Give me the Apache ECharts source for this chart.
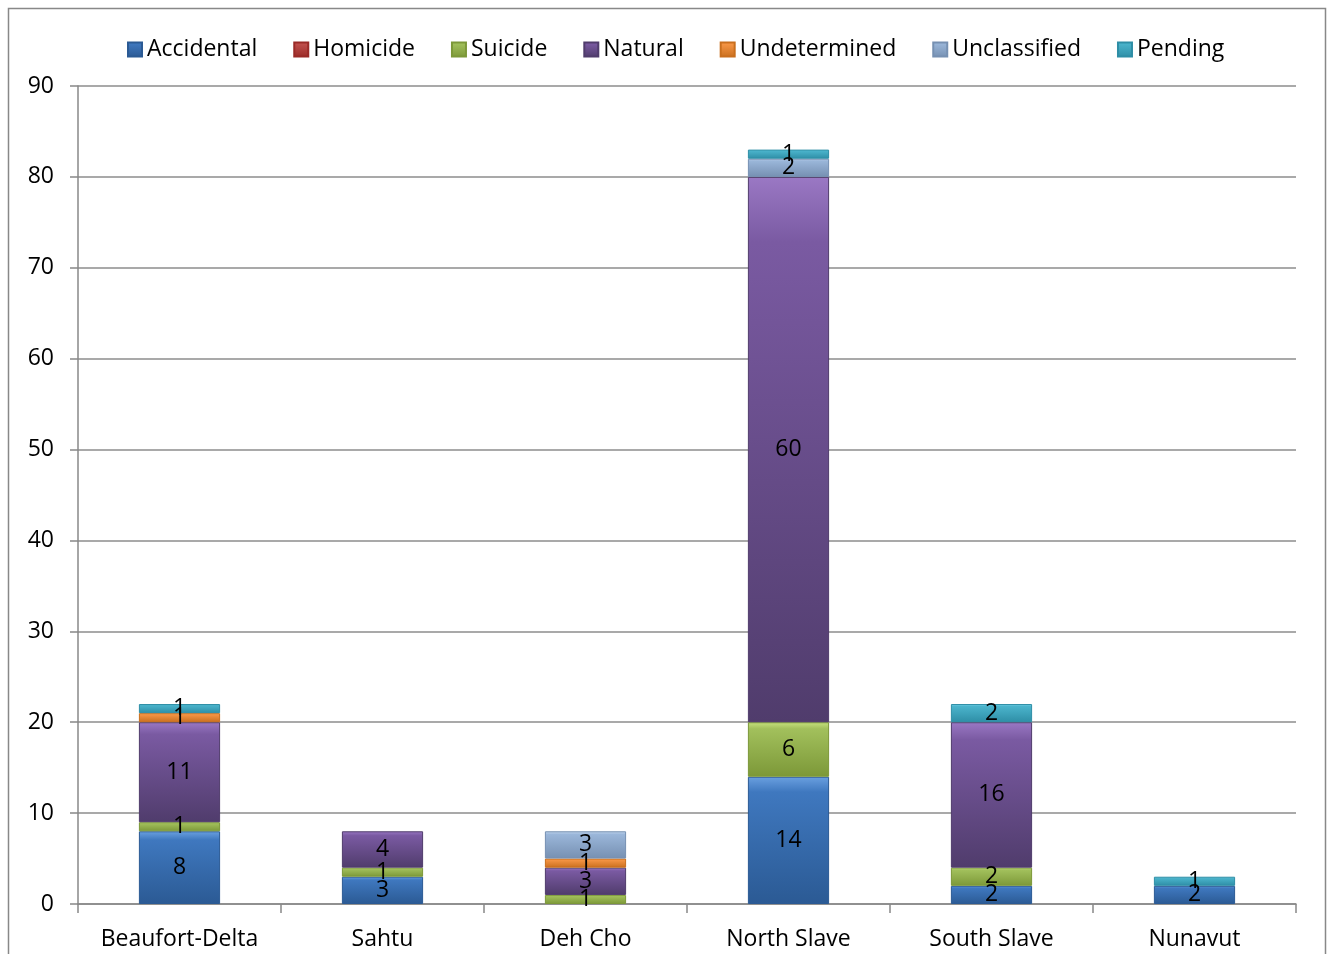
<!DOCTYPE html>
<html><head><meta charset="utf-8">
<script src="https://cdn.jsdelivr.net/npm/echarts@6/dist/echarts.min.js"></script>
<style>html,body{margin:0;padding:0;background:#fff}#c{width:1327px;height:954px}</style>
</head><body><div id="c"></div>
<script>
const categories = ['Beaufort-Delta','Sahtu','Deh Cho','North Slave','South Slave','Nunavut'];
const accidental   = [8, 3, null, 14, 2, 2];
const homicide     = [null, null, null, null, null, null];
const suicide      = [1, 1, 1, 6, 2, null];
const natural      = [11, 4, 3, 60, 16, null];
const undetermined = [1, null, 1, null, null, null];
const unclassified = [null, null, 3, 2, null, null];
const pending      = [1, null, null, 1, 2, 1];
const yTicks = [0,10,20,30,40,50,60,70,80,90];

const seriesDefs = [
  ['Accidental', accidental, '#6aa0e0', '#2b5a94', '#3f78bf'],
  ['Homicide', homicide, '#e06460', '#9a2a27', '#c0504d'],
  ['Suicide', suicide, '#c6e27e', '#7c9838', '#a2c05c'],
  ['Natural', natural, '#9a78c4', '#503c6c', '#7a5aa2'],
  ['Undetermined', undetermined, '#fbb878', '#c96f1e', '#f79646'],
  ['Unclassified', unclassified, '#c3d6ee', '#7690b2', '#9ab6d9'],
  ['Pending', pending, '#7fdcf0', '#2e8ea6', '#4bb4cc']
];
const font = '"Open Sans", sans-serif';
const chart = echarts.init(document.getElementById('c'), null, {renderer:'canvas'});
chart.setOption({
  animation: false,
  textStyle: {fontFamily: font},
  graphic: [{type:'rect', shape:{x:8.5,y:8.5,width:1317,height:960}, style:{fill:'none', stroke:'#888', lineWidth:1.5}, z:-1}],
  legend: {
    top: 33, left: 122, itemWidth: 14, itemHeight: 14, itemGap: 36,
    textStyle: {fontSize: 23, color:'#000', fontFamily: font},
    data: seriesDefs.map(s => ({name: s[0], icon: 'rect'}))
  },
  grid: {left: 78, right: 31, top: 86, bottom: 50, containLabel: false},
  xAxis: {
    type: 'category', data: categories,
    axisLine: {lineStyle:{color:'#888', width:1.5}},
    axisTick: {show:true, interval: 0, length: 9, lineStyle:{color:'#888', width:1.5}},
    axisLabel: {interval: 0, fontSize: 23, color:'#000', margin: 24, fontFamily: font}
  },
  yAxis: {
    type: 'value', min: 0, max: 90, interval: 10,
    axisLine: {show:true, lineStyle:{color:'#888', width:1.5}},
    axisTick: {show:true, length: 8, lineStyle:{color:'#888', width:1.5}},
    splitLine: {lineStyle:{color:'#8c8c8c', width:1.5}},
    axisLabel: {fontSize: 23, color:'#000', margin: 24, fontFamily: font,
      formatter: v => yTicks.includes(v) ? String(v) : ''}
  },
  series: seriesDefs.map(s => ({
    name: s[0], type: 'bar', stack: 'total', barWidth: '40%', data: s[1],
    itemStyle: {
      color: new echarts.graphic.LinearGradient(0,0,0,1,[
        {offset:0, color:s[2]}, {offset:0.12, color:s[4]}, {offset:1, color:s[3]}]),
      borderColor: s[3], borderWidth: 1
    },
    label: {show: true, position: 'inside', color:'#000', fontSize: 23, fontFamily: font,
      formatter: p => (p.value ? String(p.value) : '')}
  }))
});
</script></body></html>
